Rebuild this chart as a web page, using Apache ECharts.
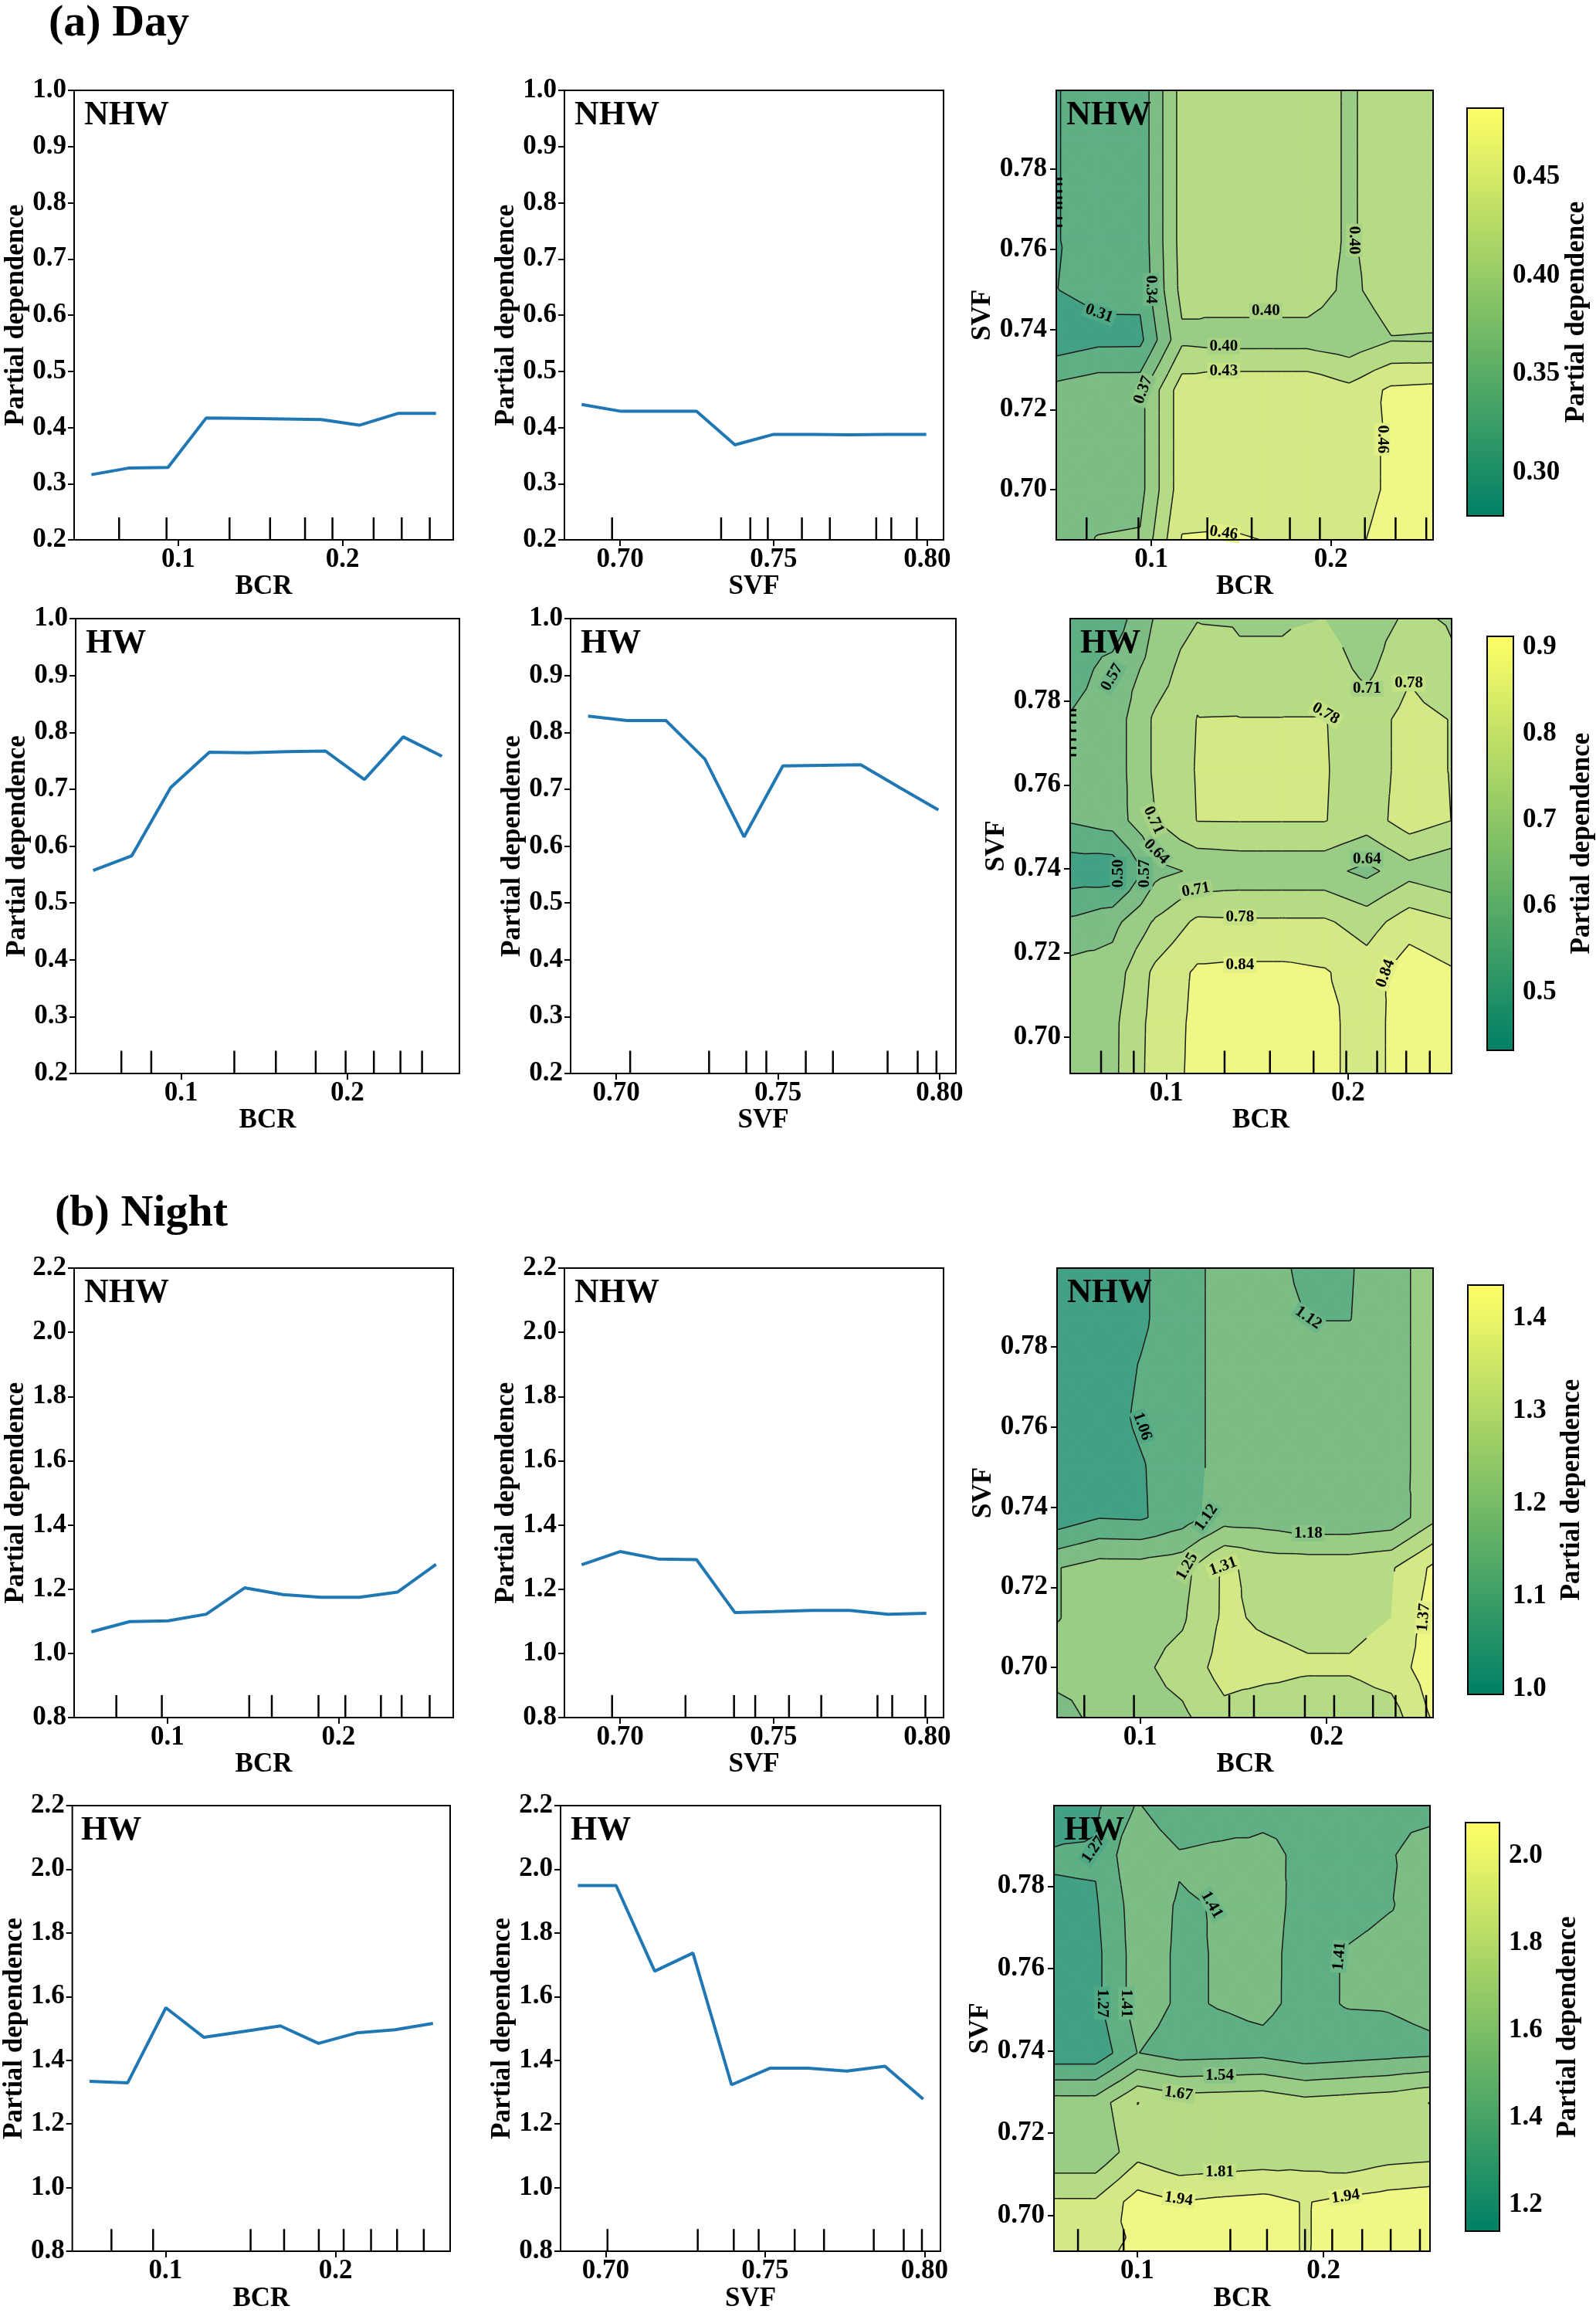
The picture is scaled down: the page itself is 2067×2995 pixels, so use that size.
<!DOCTYPE html>
<html><head><meta charset="utf-8">
<script src="https://cdn.jsdelivr.net/npm/echarts@6/dist/echarts.min.js"></script>
<style>html,body{margin:0;padding:0;background:#fff}#c{width:2067px;height:2995px}</style>
</head><body><div id="c"></div>
<script>
// ---------------- DATA ----------------
// grid points (partial-dependence evaluation grids)
const bcrDay      = [0.047, 0.0703, 0.0937, 0.117, 0.1403, 0.1637, 0.187, 0.2103, 0.2337, 0.257];
const svfNhw      = [0.6875, 0.7000, 0.7124, 0.7249, 0.7374, 0.7498, 0.7623, 0.7748, 0.7872, 0.7997];
const svfHw       = [0.6913, 0.7033, 0.7154, 0.7274, 0.7395, 0.7515, 0.7635, 0.7756, 0.7876, 0.7996];
const bcrNightNhw = [0.0555, 0.0779, 0.1003, 0.1227, 0.1451, 0.1675, 0.1898, 0.2122, 0.2346, 0.257];
const bcrNightHw  = [0.0553, 0.0777, 0.1002, 0.1226, 0.1450, 0.1675, 0.1899, 0.2123, 0.2348, 0.2572];

// 1-D partial dependence
const pdDayNhwBcr   = [0.316, 0.328, 0.329, 0.417, 0.416, 0.415, 0.414, 0.404, 0.425, 0.425];
const pdDayNhwSvf   = [0.441, 0.429, 0.429, 0.429, 0.369, 0.3875, 0.3875, 0.387, 0.3875, 0.3875];
const pdDayHwBcr    = [0.557, 0.583, 0.703, 0.765, 0.764, 0.766, 0.767, 0.717, 0.792, 0.758];
const pdDayHwSvf    = [0.8285, 0.8206, 0.8206, 0.753, 0.616, 0.741, 0.742, 0.743, 0.703, 0.6636];
const pdNightNhwBcr = [1.067, 1.099, 1.1015, 1.122, 1.204, 1.183, 1.1745, 1.1745, 1.191, 1.277];
const pdNightNhwSvf = [1.276, 1.317, 1.294, 1.292, 1.127, 1.130, 1.134, 1.134, 1.122, 1.125];
const pdNightHwBcr  = [1.334, 1.329, 1.565, 1.472, 1.490, 1.508, 1.453, 1.486, 1.496, 1.516];
const pdNightHwSvf  = [1.949, 1.949, 1.680, 1.737, 1.323, 1.375, 1.375, 1.366, 1.381, 1.278];

// deciles (rug marks)
const rugDayNhwBcr   = [0.0639, 0.0928, 0.1312, 0.1559, 0.1772, 0.1939, 0.2190, 0.2361, 0.2532];
const rugDayNhwSvf   = [0.6974, 0.7329, 0.7424, 0.7481, 0.7592, 0.7683, 0.7834, 0.7883, 0.7966];
const rugDayHwBcr    = [0.064, 0.082, 0.132, 0.157, 0.181, 0.199, 0.216, 0.232, 0.245];
const rugDayHwSvf    = [0.7043, 0.7287, 0.7402, 0.7464, 0.7586, 0.767, 0.7839, 0.7932, 0.799];
const rugNightNhwBcr = [0.0701, 0.0967, 0.1478, 0.1610, 0.1883, 0.2040, 0.2248, 0.2369, 0.2533];
const rugNightNhwSvf = [0.6974, 0.7213, 0.7371, 0.7440, 0.7550, 0.7655, 0.7838, 0.7886, 0.7994];
const rugNightHwBcr  = [0.0682, 0.0927, 0.1500, 0.1697, 0.1901, 0.2047, 0.2208, 0.2361, 0.2518];
const rugNightHwSvf  = [0.7006, 0.7289, 0.7402, 0.748, 0.7593, 0.7685, 0.7841, 0.7935, 0.7992];
const rugLeftDayNhw  = [0.7776, 0.7763, 0.7745, 0.7729, 0.7716, 0.7704, 0.7678, 0.7659];
const rugLeftDayHw   = [0.7778, 0.7766, 0.7749, 0.7729, 0.7708, 0.7688, 0.7671];

// 2-D partial dependence (rows = SVF grid from bottom, columns = BCR grid)
const mapDayNhw = [
  [0.355, 0.368, 0.370, 0.457, 0.458, 0.455, 0.448, 0.450, 0.4635, 0.470],
  [0.355, 0.355, 0.357, 0.443, 0.445, 0.445, 0.445, 0.445, 0.459, 0.465],
  [0.355, 0.355, 0.357, 0.443, 0.445, 0.445, 0.445, 0.445, 0.459, 0.465],
  [0.347, 0.357, 0.357, 0.443, 0.450, 0.450, 0.450, 0.434, 0.461, 0.464],
  [0.289, 0.2996, 0.300, 0.390, 0.385, 0.385, 0.385, 0.376, 0.395, 0.394],
  [0.307, 0.315, 0.315, 0.405, 0.410, 0.410, 0.410, 0.390, 0.410, 0.410],
  [0.305, 0.330, 0.318, 0.4075, 0.410, 0.410, 0.410, 0.393, 0.410, 0.410],
  [0.305, 0.330, 0.318, 0.4075, 0.410, 0.410, 0.410, 0.393, 0.410, 0.410],
  [0.305, 0.330, 0.318, 0.4075, 0.410, 0.410, 0.410, 0.393, 0.410, 0.410],
  [0.305, 0.330, 0.318, 0.4075, 0.410, 0.410, 0.410, 0.393, 0.410, 0.410]
];
const mapDayHw = [
  [0.680, 0.691, 0.803, 0.862, 0.870, 0.870, 0.870, 0.800, 0.900, 0.900],
  [0.680, 0.690, 0.800, 0.860, 0.870, 0.870, 0.870, 0.800, 0.900, 0.900],
  [0.665, 0.670, 0.790, 0.855, 0.860, 0.860, 0.850, 0.810, 0.883, 0.852],
  [0.583, 0.617, 0.715, 0.789, 0.785, 0.785, 0.785, 0.745, 0.813, 0.783],
  [0.457, 0.454, 0.617, 0.650, 0.660, 0.660, 0.660, 0.620, 0.680, 0.650],
  [0.576, 0.600, 0.705, 0.777, 0.778, 0.778, 0.778, 0.742, 0.810, 0.775],
  [0.600, 0.600, 0.718, 0.780, 0.785, 0.785, 0.780, 0.742, 0.800, 0.773],
  [0.574, 0.600, 0.718, 0.777, 0.778, 0.778, 0.778, 0.742, 0.800, 0.773],
  [0.545, 0.590, 0.665, 0.760, 0.720, 0.720, 0.740, 0.690, 0.765, 0.718],
  [0.530, 0.531, 0.643, 0.703, 0.700, 0.700, 0.707, 0.670, 0.720, 0.700]
];
const mapNightNhw = [
  [1.150, 1.205, 1.220, 1.235, 1.290, 1.270, 1.270, 1.270, 1.282, 1.380],
  [1.215, 1.220, 1.235, 1.271, 1.336, 1.330, 1.318, 1.318, 1.340, 1.410],
  [1.180, 1.210, 1.220, 1.239, 1.321, 1.300, 1.290, 1.290, 1.310, 1.404],
  [1.180, 1.211, 1.210, 1.226, 1.320, 1.290, 1.289, 1.289, 1.303, 1.385],
  [1.018, 1.055, 1.050, 1.090, 1.155, 1.150, 1.130, 1.130, 1.143, 1.230],
  [1.020, 1.025, 1.052, 1.090, 1.145, 1.155, 1.155, 1.155, 1.160, 1.210],
  [1.020, 1.030, 1.066, 1.090, 1.145, 1.155, 1.155, 1.155, 1.160, 1.210],
  [1.020, 1.025, 1.060, 1.090, 1.145, 1.155, 1.155, 1.155, 1.160, 1.210],
  [1.020, 1.025, 1.048, 1.090, 1.145, 1.155, 1.118, 1.118, 1.160, 1.210],
  [1.020, 1.025, 1.048, 1.090, 1.145, 1.150, 1.100, 1.115, 1.160, 1.210]
];
const mapNightHw = [
  [1.900, 1.920, 1.960, 1.960, 1.970, 1.990, 1.935, 1.980, 2.000, 2.020],
  [1.826, 1.826, 2.000, 1.945, 1.969, 1.985, 1.935, 1.973, 2.004, 2.024],
  [1.564, 1.564, 1.760, 1.686, 1.697, 1.713, 1.730, 1.689, 1.742, 1.757],
  [1.600, 1.600, 1.810, 1.750, 1.760, 1.770, 1.720, 1.740, 1.760, 1.810],
  [1.180, 1.180, 1.410, 1.350, 1.360, 1.370, 1.320, 1.340, 1.360, 1.380],
  [1.200, 1.240, 1.470, 1.390, 1.415, 1.437, 1.370, 1.415, 1.418, 1.442],
  [1.200, 1.240, 1.470, 1.390, 1.415, 1.440, 1.368, 1.415, 1.440, 1.440],
  [1.257, 1.260, 1.480, 1.395, 1.415, 1.440, 1.381, 1.370, 1.400, 1.447],
  [1.285, 1.290, 1.525, 1.422, 1.450, 1.450, 1.373, 1.370, 1.390, 1.487],
  [1.216, 1.250, 1.420, 1.290, 1.300, 1.356, 1.360, 1.360, 1.370, 1.350]
];

// contour levels (first/last = colour-bar range)
const levelsDayNhw   = [0.278, 0.3076, 0.3371, 0.3667, 0.3963, 0.4259, 0.4554, 0.485];
const levelsDayHw    = [0.433, 0.5015, 0.570, 0.6385, 0.707, 0.7755, 0.844, 0.9125];
const levelsNightNhw = [0.994, 1.057, 1.120, 1.183, 1.247, 1.310, 1.373, 1.436];
const levelsNightHw  = [1.1405, 1.274, 1.4075, 1.541, 1.6745, 1.808, 1.9415, 2.075];

// inline contour labels: [BCR, SVF, text, rotation in degrees]
const labelsDayNhw = [
  [0.0709, 0.7440, '0.31', -20], [0.0996, 0.7500, '0.34', -90], [0.0955, 0.7249, '0.37', 70],
  [0.1638, 0.7446, '0.40', 0], [0.1403, 0.7358, '0.40', 0], [0.1403, 0.7296, '0.43', 0],
  [0.2130, 0.7623, '0.40', -90], [0.2286, 0.7126, '0.46', -90], [0.1403, 0.6892, '0.46', -8]
];
const labelsDayHw = [
  [0.0701, 0.7856, '0.57', 60], [0.2104, 0.7829, '0.71', 0], [0.2335, 0.7842, '0.78', 0],
  [0.1877, 0.7770, '0.78', -30], [0.0929, 0.7516, '0.71', -65], [0.0944, 0.7441, '0.64', -45],
  [0.0734, 0.7389, '0.50', 90], [0.0879, 0.7389, '0.57', 90], [0.2104, 0.7424, '0.64', 0],
  [0.1162, 0.7350, '0.71', 10], [0.1405, 0.7285, '0.78', 0], [0.1405, 0.7172, '0.84', 0],
  [0.2206, 0.7151, '0.84', 70]
];
const labelsNightNhw = [
  [0.1901, 0.7873, '1.12', -35], [0.1011, 0.7602, '1.06', -70], [0.1355, 0.7374, '1.12', 55],
  [0.1901, 0.7335, '1.18', 0], [0.1252, 0.7252, '1.25', 60], [0.1445, 0.7252, '1.31', 20],
  [0.2520, 0.7125, '1.37', 85]
];
const labelsNightHw = [
  [0.0765, 0.7889, '1.27', 55], [0.1400, 0.7755, '1.41', -60], [0.2086, 0.7630, '1.41', 85],
  [0.0812, 0.7516, '1.27', -90], [0.0942, 0.7516, '1.41', -90], [0.1443, 0.7340, '1.54', 0],
  [0.1222, 0.7296, '1.67', -8], [0.1443, 0.7105, '1.81', 0], [0.1222, 0.7040, '1.94', -8],
  [0.2119, 0.7046, '1.94', 8]
];

// tick values
const ticksPdDay   = [0.2, 0.3, 0.4, 0.5, 0.6, 0.7, 0.8, 0.9, 1.0];
const ticksPdNight = [0.8, 1.0, 1.2, 1.4, 1.6, 1.8, 2.0, 2.2];
const ticksBcr     = [0.1, 0.2];
const ticksSvfLine = [0.70, 0.75, 0.80];
const ticksSvfMap  = [0.70, 0.72, 0.74, 0.76, 0.78];
const ticksBarDayNhw   = [0.30, 0.35, 0.40, 0.45];
const ticksBarDayHw    = [0.5, 0.6, 0.7, 0.8, 0.9];
const ticksBarNightNhw = [1.0, 1.1, 1.2, 1.3, 1.4];
const ticksBarNightHw  = [1.2, 1.4, 1.6, 1.8, 2.0];

// ---------------- LAYOUT / STYLE ----------------
const FONT = '"Liberation Serif","Times New Roman",serif';
const boxes = {
  dayNhwBcr:   {left: 96,   top: 117,  width: 491, height: 582},
  dayNhwSvf:   {left: 731,  top: 117,  width: 491, height: 582},
  dayNhwMap:   {left: 1368, top: 117,  width: 488, height: 582},
  dayNhwBar:   {left: 1900, top: 140,  width: 47,  height: 528},
  dayHwBcr:    {left: 98,   top: 801,  width: 497, height: 589},
  dayHwSvf:    {left: 739,  top: 801,  width: 499, height: 589},
  dayHwMap:    {left: 1386, top: 801,  width: 494, height: 589},
  dayHwBar:    {left: 1926, top: 824,  width: 46,  height: 536},
  nightNhwBcr: {left: 96,   top: 1642, width: 491, height: 582},
  nightNhwSvf: {left: 731,  top: 1642, width: 491, height: 582},
  nightNhwMap: {left: 1369, top: 1642, width: 487, height: 582},
  nightNhwBar: {left: 1901, top: 1664, width: 46,  height: 530},
  nightHwBcr:  {left: 92,   top: 2338, width: 491, height: 581},
  nightHwSvf:  {left: 726,  top: 2338, width: 492, height: 581},
  nightHwMap:  {left: 1365, top: 2338, width: 487, height: 581},
  nightHwBar:  {left: 1898, top: 2360, width: 44,  height: 529}
};

const grids = [], xAxes = [], yAxes = [], series = [], graphics = [];

function valueAxis(gi, min, max, ticks, digits, name, gap, position, margin) {
  const isY = position === 'left' || position === 'right';
  return {
    type: 'value', gridIndex: gi, min: min, max: max, position: position,
    axisLine: {show: false}, splitLine: {show: false},
    axisTick: {show: true, inside: false, length: 8, lineStyle: {color: '#000', width: 2}, customValues: ticks},
    axisLabel: {show: true, customValues: ticks, formatter: v => Number(v).toFixed(digits),
      color: '#000', fontFamily: FONT, fontWeight: 'bold', fontSize: 35, margin: margin},
    name: name, nameLocation: 'middle', nameGap: gap, nameRotate: isY ? 90 : 0,
    nameTextStyle: {color: '#000', fontFamily: FONT, fontWeight: 'bold', fontSize: 35}
  };
}
function addGrid(box) {
  grids.push(Object.assign({show: true, borderColor: '#000', borderWidth: 2, z: 10,
    backgroundColor: 'transparent', containLabel: false}, box));
  return grids.length - 1;
}
function rugSeries(gi, vals, range, dir, frac, lw) {
  return {
    type: 'custom', xAxisIndex: gi, yAxisIndex: gi, z: 6, silent: true,
    data: vals.map(v => dir === 'x' ? [v, range[0]] : [range[0], v]),
    renderItem: function (params, api) {
      const v = vals[params.dataIndex];
      const e = range[0] + frac * (range[1] - range[0]);
      const p0 = dir === 'x' ? api.coord([v, range[0]]) : api.coord([range[0], v]);
      const p1 = dir === 'x' ? api.coord([v, e]) : api.coord([e, v]);
      return {type: 'line', shape: {x1: p0[0], y1: p0[1], x2: p1[0], y2: p1[1]},
        style: {stroke: '#000', lineWidth: lw}};
    }
  };
}
function addTag(box, tag) {
  graphics.push({type: 'text', left: box.left + 13, top: box.top + 11, z: 100,
    style: {text: tag, fill: '#000', font: 'bold 44px ' + FONT}});
}
function addLinePanel(box, xs, ys, rug, yr, yTicks, xTicks, xDigits, xName, tag) {
  const gi = addGrid(box);
  const n = xs.length, pad = 0.05 * (xs[n - 1] - xs[0]);
  xAxes.push(valueAxis(gi, xs[0] - pad, xs[n - 1] + pad, xTicks, xDigits, xName, 42, 'bottom', 8));
  yAxes.push(valueAxis(gi, yr[0], yr[1], yTicks, 1, 'Partial dependence', 56, 'left', 10));
  series.push({type: 'line', xAxisIndex: gi, yAxisIndex: gi, data: xs.map((x, k) => [x, ys[k]]),
    showSymbol: false, symbol: 'none', lineStyle: {color: '#1f77b4', width: 4}, itemStyle: {color: '#1f77b4'}, z: 3});
  series.push(rugSeries(gi, rug, yr, 'x', 0.05, 2.5));
  addTag(box, tag);
}

// summer colormap, contourf drawn with alpha 0.8 on white
function summer(t) { return [255 * t, 255 * (0.5 + 0.5 * t), 102]; }
function bandRgb(t) { return summer(t).map(v => 0.8 * v + 0.2 * 255); }
function rgbStr(c) { return 'rgb(' + c.map(Math.round).join(',') + ')'; }
function clipPoly(poly, L, sign) {
  if (!isFinite(L) || poly.length === 0) return poly;
  const out = [];
  for (let n = 0; n < poly.length; n++) {
    const a = poly[n], b = poly[(n + 1) % poly.length];
    const da = sign * (a[2] - L), db = sign * (b[2] - L);
    if (da >= 0) out.push(a);
    if ((da >= 0) !== (db >= 0)) {
      const t = da / (da - db);
      out.push([a[0] + t * (b[0] - a[0]), a[1] + t * (b[1] - a[1]), L]);
    }
  }
  return out;
}
function cellTriangles(api, V, xs, ys, i, j) {
  const P = (a, b) => { const p = api.coord([xs[a], ys[b]]); return [p[0], p[1], V[b][a]]; };
  const p00 = P(i, j), p10 = P(i + 1, j), p11 = P(i + 1, j + 1), p01 = P(i, j + 1);
  const c = [(p00[0] + p10[0] + p11[0] + p01[0]) / 4, (p00[1] + p10[1] + p11[1] + p01[1]) / 4,
             (p00[2] + p10[2] + p11[2] + p01[2]) / 4];
  return [[c, p00, p10], [c, p10, p11], [c, p11, p01], [c, p01, p00]];
}
function addMapPanel(box, barBox, xs, ys, V, levels, labels, rugB, rugL, barTicks, barDigits, tag) {
  const gi = addGrid(box);
  xAxes.push(valueAxis(gi, xs[0], xs[xs.length - 1], ticksBcr, 1, 'BCR', 42, 'bottom', 8));
  yAxes.push(valueAxis(gi, ys[0], ys[ys.length - 1], ticksSvfMap, 2, 'SVF', 76, 'left', 12));
  const cells = [];
  for (let j = 0; j < ys.length - 1; j++) for (let i = 0; i < xs.length - 1; i++) cells.push([i, j]);
  const nb = levels.length - 1;
  const rgbs = [], cols = [];
  for (let k = 0; k < nb; k++) { rgbs.push(bandRgb((k + 0.5) / nb)); cols.push(rgbStr(rgbs[k])); }
  // gap colour behind a label: halfway between the two bands its level separates
  const gapColor = txt => {
    const v = parseFloat(txt);
    let best = 1;
    for (let k = 1; k < levels.length - 1; k++) if (Math.abs(levels[k] - v) < Math.abs(levels[best] - v)) best = k;
    return rgbStr(rgbs[best - 1].map((c, q) => 0.5 * (c + rgbs[best][q])));
  };
  series.push({
    type: 'custom', xAxisIndex: gi, yAxisIndex: gi, z: 2, silent: true, clip: true,
    data: cells.map(c => [xs[c[0]], ys[c[1]]]),
    renderItem: function (params, api) {
      const c = cells[params.dataIndex];
      const tris = cellTriangles(api, V, xs, ys, c[0], c[1]);
      const children = [];
      for (const t of tris) {
        for (let k = 0; k < nb; k++) {
          const lo = k === 0 ? -Infinity : levels[k];
          const hi = k === nb - 1 ? Infinity : levels[k + 1];
          const poly = clipPoly(clipPoly(t, lo, 1), hi, -1);
          if (poly.length >= 3) children.push({type: 'polygon', shape: {points: poly.map(p => [p[0], p[1]])},
            style: {fill: cols[k], stroke: cols[k], lineWidth: 1}});
        }
      }
      return {type: 'group', children: children};
    }
  });
  series.push({
    type: 'custom', xAxisIndex: gi, yAxisIndex: gi, z: 3, silent: true, clip: true,
    data: cells.map(c => [xs[c[0]], ys[c[1]]]),
    renderItem: function (params, api) {
      const c = cells[params.dataIndex];
      const tris = cellTriangles(api, V, xs, ys, c[0], c[1]);
      const children = [];
      for (const t of tris) {
        for (let k = 1; k < levels.length - 1; k++) {
          const L = levels[k], pts = [];
          for (let e = 0; e < 3; e++) {
            const a = t[e], b = t[(e + 1) % 3];
            if ((a[2] - L) * (b[2] - L) < 0) {
              const s = (L - a[2]) / (b[2] - a[2]);
              pts.push([a[0] + s * (b[0] - a[0]), a[1] + s * (b[1] - a[1])]);
            }
          }
          if (pts.length === 2) children.push({type: 'line',
            shape: {x1: pts[0][0], y1: pts[0][1], x2: pts[1][0], y2: pts[1][1]},
            style: {stroke: '#1a1a1a', lineWidth: 1.5}});
        }
      }
      return {type: 'group', children: children};
    }
  });
  series.push({
    type: 'custom', xAxisIndex: gi, yAxisIndex: gi, z: 4, silent: true,
    data: labels.map(l => [l[0], l[1]]),
    renderItem: function (params, api) {
      const l = labels[params.dataIndex];
      const p = api.coord([l[0], l[1]]);
      return {type: 'text', x: p[0], y: p[1], rotation: l[3] * Math.PI / 180,
        style: {text: l[2], fill: '#000', font: 'bold 21px ' + FONT, align: 'center', verticalAlign: 'middle',
          backgroundColor: gapColor(l[2]), padding: [0, 3]}};
    }
  });
  series.push(rugSeries(gi, rugB, [ys[0], ys[ys.length - 1]], 'x', 0.05, 2.5));
  if (rugL) series.push(rugSeries(gi, rugL, [xs[0], xs[xs.length - 1]], 'y', 0.016, 3));
  addTag(box, tag);

  // colour bar
  const bi = addGrid(barBox);
  xAxes.push({type: 'value', gridIndex: bi, min: 0, max: 1, show: false});
  yAxes.push(valueAxis(bi, levels[0], levels[levels.length - 1], barTicks, barDigits, 'Partial dependence', 71, 'right', 12));
  series.push({
    type: 'custom', xAxisIndex: bi, yAxisIndex: bi, z: 2, silent: true,
    data: [[0, levels[0]]],
    renderItem: function (params, api) {
      const a = api.coord([0, levels[0]]), b = api.coord([1, levels[levels.length - 1]]);
      return {type: 'rect', shape: {x: a[0], y: b[1], width: b[0] - a[0], height: a[1] - b[1]},
        style: {fill: new echarts.graphic.LinearGradient(0, 1, 0, 0, [
          {offset: 0, color: rgbStr(summer(0))}, {offset: 1, color: rgbStr(summer(1))}])}};
    }
  });
}

// ---------------- BUILD ----------------
// (a) Day
addLinePanel(boxes.dayNhwBcr, bcrDay, pdDayNhwBcr, rugDayNhwBcr, [0.2, 1.0], ticksPdDay, ticksBcr, 1, 'BCR', 'NHW');
addLinePanel(boxes.dayNhwSvf, svfNhw, pdDayNhwSvf, rugDayNhwSvf, [0.2, 1.0], ticksPdDay, ticksSvfLine, 2, 'SVF', 'NHW');
addMapPanel(boxes.dayNhwMap, boxes.dayNhwBar, bcrDay, svfNhw, mapDayNhw, levelsDayNhw, labelsDayNhw,
  rugDayNhwBcr, rugLeftDayNhw, ticksBarDayNhw, 2, 'NHW');
addLinePanel(boxes.dayHwBcr, bcrDay, pdDayHwBcr, rugDayHwBcr, [0.2, 1.0], ticksPdDay, ticksBcr, 1, 'BCR', 'HW');
addLinePanel(boxes.dayHwSvf, svfHw, pdDayHwSvf, rugDayHwSvf, [0.2, 1.0], ticksPdDay, ticksSvfLine, 2, 'SVF', 'HW');
addMapPanel(boxes.dayHwMap, boxes.dayHwBar, bcrDay, svfHw, mapDayHw, levelsDayHw, labelsDayHw,
  rugDayHwBcr, rugLeftDayHw, ticksBarDayHw, 1, 'HW');
// (b) Night
addLinePanel(boxes.nightNhwBcr, bcrNightNhw, pdNightNhwBcr, rugNightNhwBcr, [0.8, 2.2], ticksPdNight, ticksBcr, 1, 'BCR', 'NHW');
addLinePanel(boxes.nightNhwSvf, svfNhw, pdNightNhwSvf, rugNightNhwSvf, [0.8, 2.2], ticksPdNight, ticksSvfLine, 2, 'SVF', 'NHW');
addMapPanel(boxes.nightNhwMap, boxes.nightNhwBar, bcrNightNhw, svfNhw, mapNightNhw, levelsNightNhw, labelsNightNhw,
  rugNightNhwBcr, null, ticksBarNightNhw, 1, 'NHW');
addLinePanel(boxes.nightHwBcr, bcrNightHw, pdNightHwBcr, rugNightHwBcr, [0.8, 2.2], ticksPdNight, ticksBcr, 1, 'BCR', 'HW');
addLinePanel(boxes.nightHwSvf, svfHw, pdNightHwSvf, rugNightHwSvf, [0.8, 2.2], ticksPdNight, ticksSvfLine, 2, 'SVF', 'HW');
addMapPanel(boxes.nightHwMap, boxes.nightHwBar, bcrNightHw, svfHw, mapNightHw, levelsNightHw, labelsNightHw,
  rugNightHwBcr, null, ticksBarNightHw, 1, 'HW');

graphics.push({type: 'text', left: 63, top: 2, z: 100, style: {text: '(a) Day', fill: '#000', font: 'bold 58px ' + FONT}});
graphics.push({type: 'text', left: 71, top: 1543, z: 100, style: {text: '(b) Night', fill: '#000', font: 'bold 58px ' + FONT}});

const chart = echarts.init(document.getElementById('c'), null, {renderer: 'canvas'});
chart.setOption({
  backgroundColor: '#ffffff', animation: false,
  grid: grids, xAxis: xAxes, yAxis: yAxes, series: series,
  graphic: {elements: graphics}
});
</script></body></html>
